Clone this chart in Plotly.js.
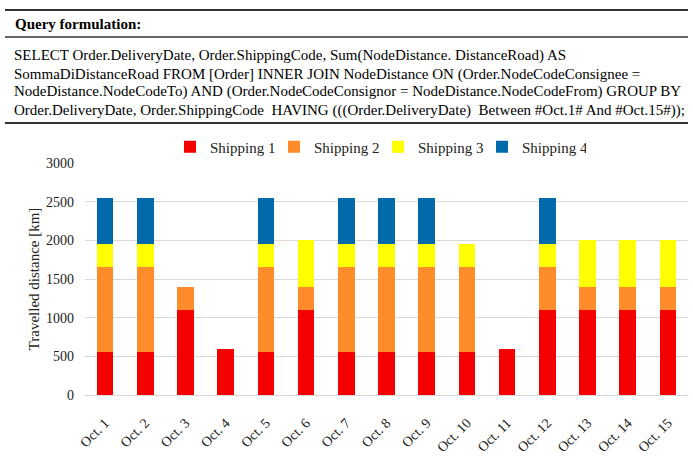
<!DOCTYPE html>
<html>
<head>
<meta charset="utf-8">
<script src="https://cdn.plot.ly/plotly-3.0.1.min.js"></script>
<style>
html,body{margin:0;padding:0;background:#fff;}
#chart{width:693px;height:466px;}
</style>
</head>
<body>
<div id="chart"></div>
<script>
// ---- data ----
const categories = ["Oct. 1","Oct. 2","Oct. 3","Oct. 4","Oct. 5","Oct. 6","Oct. 7","Oct. 8","Oct. 9","Oct. 10","Oct. 11","Oct. 12","Oct. 13","Oct. 14","Oct. 15"];
const shipping1 = [550,550,1100,600,550,1100,550,550,550,550,600,1100,1100,1100,1100];
const shipping2 = [1100,1100,300,0,1100,300,1100,1100,1100,1100,0,550,300,300,300];
const shipping3 = [300,300,0,0,300,600,300,300,300,300,0,300,600,600,600];
const shipping4 = [600,600,0,0,600,0,600,600,600,0,0,600,0,0,0];
const seriesNames = ["Shipping 1","Shipping 2","Shipping 3","Shipping 4"];
const yTicks = [0,500,1000,1500,2000,2500,3000];
const headerTitle = "Query formulation:";
const queryLines = [
  "SELECT Order.DeliveryDate, Order.ShippingCode, Sum(NodeDistance. DistanceRoad) AS",
  "SommaDiDistanceRoad FROM [Order] INNER JOIN NodeDistance ON (Order.NodeCodeConsignee =",
  "NodeDistance.NodeCodeTo) AND (Order.NodeCodeConsignor = NodeDistance.NodeCodeFrom) GROUP BY",
  "Order.DeliveryDate, Order.ShippingCode  HAVING (((Order.DeliveryDate)  Between #Oct.1# And #Oct.15#));"
];

// ---- styles ----
const colors = ["#f50000","#ff8c2a","#ffff00","#006aab"];
const serif = "Liberation Serif, Times New Roman, serif";
const W = 693, H = 466;
const L = 85, R = 5, T = 163, B = 71;
const pw = W - L - R, ph = H - T - B;
const px = x => (x - L) / pw;
const py = y => (H - B - y) / ph;

const values = [shipping1, shipping2, shipping3, shipping4];
const traces = values.map((v, i) => ({
  type: "bar",
  name: seriesNames[i],
  x: categories,
  y: v,
  marker: {color: colors[i]},
  hoverinfo: "x+y+name"
}));

const annotations = [
  {text: "<b>" + headerTitle + "</b>", xref: "paper", yref: "paper", x: px(13), y: py(24),
   xanchor: "left", yanchor: "middle", showarrow: false, font: {family: serif, size: 15, color: "#000"}}
];
const lineY = [56, 74, 92, 110];
queryLines.forEach((t, i) => annotations.push({
  text: t, xref: "paper", yref: "paper", x: px(12), y: py(lineY[i]),
  xanchor: "left", yanchor: "middle", showarrow: false,
  font: {family: serif, size: 15, color: "#000"}
}));

const shapes = [
  {type: "line", xref: "paper", yref: "paper", x0: px(5), x1: px(688), y0: py(10), y1: py(10), line: {color: "#333", width: 2}},
  {type: "line", xref: "paper", yref: "paper", x0: px(5), x1: px(688), y0: py(37), y1: py(37), line: {color: "#333", width: 1.5}},
  {type: "line", xref: "paper", yref: "paper", x0: px(5), x1: px(688), y0: py(123), y1: py(123), line: {color: "#333", width: 2}}
];

const layout = {
  width: W, height: H,
  margin: {l: L, r: R, t: T, b: B, pad: 0},
  paper_bgcolor: "#fff", plot_bgcolor: "#fff",
  barmode: "stack",
  bargap: 0.59,
  font: {family: serif, size: 13, color: "#222"},
  showlegend: true,
  legend: {orientation: "h", x: px(378), xanchor: "center", y: py(147), yanchor: "middle",
           font: {family: serif, size: 15, color: "#222"}, traceorder: "normal",
           entrywidth: 59, entrywidthmode: "pixels", bgcolor: "rgba(0,0,0,0)"},
  xaxis: {type: "category", tickangle: -45, showgrid: false, zeroline: false, showline: false,
          ticks: "", ticklabelstandoff: 16, tickfont: {family: serif, size: 14, color: "#222"}, fixedrange: true},
  yaxis: {range: [0, 3000], tickvals: yTicks, showgrid: true, gridcolor: "#d9d9d9", gridwidth: 1,
          zeroline: true, zerolinecolor: "#d9d9d9", zerolinewidth: 1, showline: false, ticks: "",
          ticklabelstandoff: 10,
          tickfont: {family: serif, size: 14, color: "#222"},
          title: {text: "Travelled distance [km]", font: {family: serif, size: 15, color: "#222"}, standoff: 2},
          fixedrange: true},
  annotations: annotations,
  shapes: shapes
};

Plotly.newPlot("chart", traces, layout, {displayModeBar: false, staticPlot: true});
</script>
</body>
</html>
